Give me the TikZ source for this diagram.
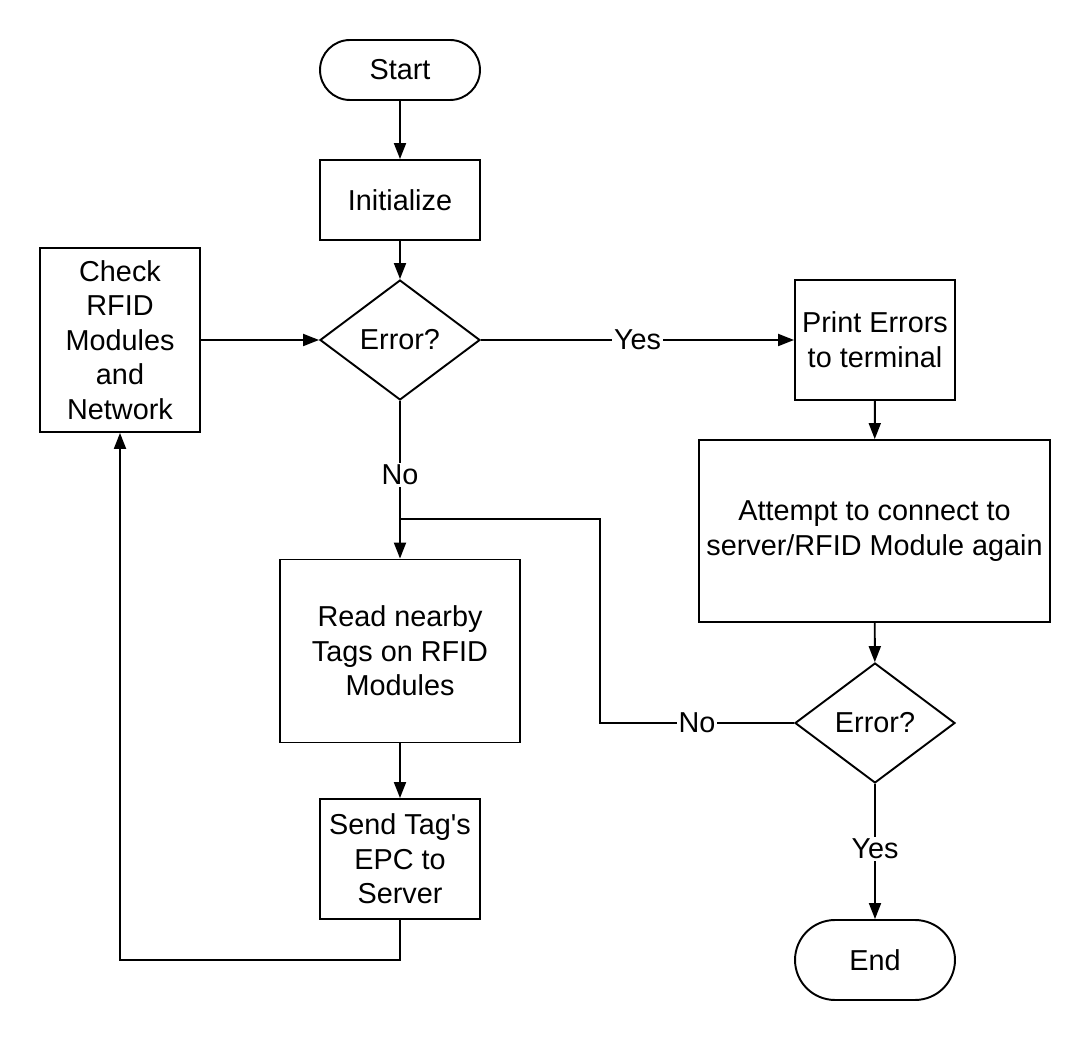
\documentclass[tikz,border=0pt]{standalone}
\usepackage{fontspec}
\setmainfont{Liberation Sans}
\usepackage{tikz}
\usetikzlibrary{shapes.geometric,arrows.meta}

\begin{document}
\begin{tikzpicture}[x=0.02cm,y=-0.02cm,
        line width=1.1pt,
        >={Triangle[length=3.2mm,width=2.4mm]},
        every node/.style={font=\fontsize{16.4pt}{19.7pt}\selectfont, align=center},
        box/.style={draw, rectangle, inner sep=0pt},
        term/.style={draw, rectangle, rounded corners=0.6cm, minimum width=3.2cm, minimum height=1.2cm},
        decide/.style={draw, diamond, aspect=1.333, inner sep=0pt, minimum width=3.2cm, minimum height=2.4cm},
        lbl/.style={fill=white, inner sep=1pt}]
        \useasboundingbox (0,0) rectangle (1090,1040);

        % Main column
        \node[term] (start) at (400,70) {Start};
        \node[box, minimum width=3.2cm, minimum height=1.6cm] (init) at (400,200) {Initialize};
        \node[decide] (err1) at (400,340) {Error?};
        \node[box, minimum width=4.8cm, minimum height=3.66cm] (read) at (400,651) {Read nearby\\Tags on RFID\\Modules};
        \node[box, minimum width=3.2cm, minimum height=2.4cm] (send) at (400,859) {Send Tag\textquotesingle s\\EPC to\\Server};
        \node[box, minimum width=3.2cm, minimum height=3.68cm] (check) at (120,340) {Check\\RFID\\Modules\\and\\Network};

        % Error branch
        \node[box, minimum width=3.2cm, minimum height=2.4cm] (print) at (875,340) {Print Errors\\to terminal};
        \node[box, minimum width=7.02cm, minimum height=3.64cm] (retry) at (874.5,531) {Attempt to connect to\\server/RFID Module again};
        \node[decide] (err2) at (875,723) {Error?};
        \node[term, rounded corners=0.8cm, minimum height=1.6cm] (stop) at (875,960) {End};

        \coordinate (merge) at (400,519);
        \coordinate (turn) at (600,519);
        \coordinate (loop) at (120,960);

        \draw[->] (start) -- (init);
        \draw[->] (init) -- (err1);
        \draw[->] (check) -- (err1);
        \draw[->] (err1) -- node[lbl] {Yes} (print);
        \draw[->] (err1) -- node[lbl, pos=0.47] {No} (read);
        \draw[->] (read) -- (send);
        \draw[->] (send.south) |- (loop) -- (check.south);
        \draw[->] (print) -- (retry);
        \draw[->] (retry) -- (err2);
        \draw (err2.west) -- node[lbl] {No} (err2.west -| turn) -- (turn) -- (merge);
        \draw[->] (err2) -- node[lbl, pos=0.48] {Yes} (stop);
    \end{tikzpicture}
\end{document}
